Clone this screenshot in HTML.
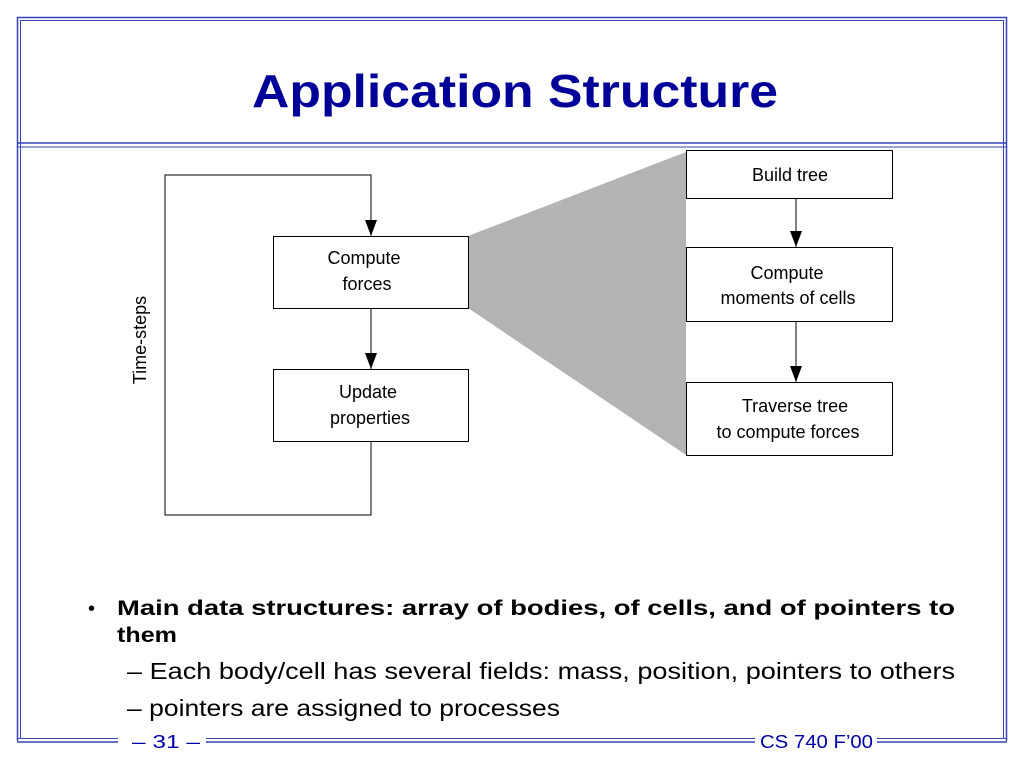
<!DOCTYPE html>
<html><head><meta charset="utf-8"><style>
html,body{margin:0;padding:0;background:#fff;}
</style></head><body>
<svg width="1024" height="768" xmlns="http://www.w3.org/2000/svg">
<defs><marker id="a" markerWidth="16" markerHeight="12" refX="16" refY="6" orient="auto" markerUnits="userSpaceOnUse"><path d="M0,0 L16,6 L0,12 Z" fill="#000"/></marker></defs>
<g stroke="#3344bb" fill="none">
<polyline points="17.5,741 17.5,17.5 1006.5,17.5 1006.5,741" stroke-width="1.5"/>
<polyline points="20.5,738 20.5,20.5 1003.5,20.5 1003.5,738" stroke-width="1"/>
<line x1="18" y1="143" x2="1006" y2="143" stroke-width="1.5"/>
<line x1="18" y1="147" x2="1006" y2="147" stroke-width="1"/>
<line x1="17" y1="738.5" x2="118" y2="738.5"/><line x1="17" y1="742" x2="118" y2="742" stroke-width="1.5"/>
<line x1="206" y1="738.5" x2="755" y2="738.5"/><line x1="206" y1="742" x2="755" y2="742" stroke-width="1.5"/>
<line x1="877" y1="738.5" x2="1007" y2="738.5"/><line x1="877" y1="742" x2="1007" y2="742" stroke-width="1.5"/>
</g>
<text x="252" y="107" textLength="526" lengthAdjust="spacingAndGlyphs" font-family="Liberation Sans, sans-serif" font-size="46" font-weight="bold" fill="#000099">Application Structure</text>
<polygon points="468,236 686,152 686,455 468,308" fill="#b3b3b3"/>
<g stroke="#000" stroke-width="1" fill="none">
<polyline points="371,441 371,515 165,515 165,175 371,175 371,236" marker-end="url(#a)"/>
<line x1="371" y1="308" x2="371" y2="369" marker-end="url(#a)"/>
<line x1="796" y1="198" x2="796" y2="247" marker-end="url(#a)"/>
<line x1="796" y1="321" x2="796" y2="382" marker-end="url(#a)"/>
</g>
<g stroke="#000" fill="#fff">
<rect x="273.5" y="236.5" width="195" height="72"/>
<rect x="273.5" y="369.5" width="195" height="72"/>
<rect x="686.5" y="150.5" width="206" height="48"/>
<rect x="686.5" y="247.5" width="206" height="74"/>
<rect x="686.5" y="382.5" width="206" height="73"/>
</g>
<g font-family="Liberation Sans, sans-serif" font-size="18" fill="#000" text-anchor="middle">
<text x="364" y="264">Compute</text><text x="367" y="290">forces</text>
<text x="368" y="398">Update</text><text x="370" y="424">properties</text>
<text x="790" y="181">Build tree</text>
<text x="787" y="279">Compute</text><text x="788" y="304">moments of cells</text>
<text x="795" y="412">Traverse tree</text><text x="788" y="438">to compute forces</text>
<text transform="translate(146,340) rotate(-90)">Time-steps</text>
</g>
<g font-family="Liberation Sans, sans-serif" fill="#000">
<text x="88" y="615" font-size="20">•</text>
<text x="117" y="615" font-size="21" font-weight="bold" textLength="838" lengthAdjust="spacingAndGlyphs">Main data structures: array of bodies, of cells, and of pointers to</text>
<text x="117" y="642" font-size="21" font-weight="bold" textLength="60" lengthAdjust="spacingAndGlyphs">them</text>
<text x="127" y="679" font-size="23" textLength="828" lengthAdjust="spacingAndGlyphs">– Each body/cell has several fields: mass, position, pointers to others</text>
<text x="127" y="716" font-size="23" textLength="433" lengthAdjust="spacingAndGlyphs">– pointers are assigned to processes</text>
</g>
<g font-family="Liberation Sans, sans-serif" font-size="18" fill="#0000aa">
<text x="132" y="748" textLength="68" lengthAdjust="spacingAndGlyphs">– 31 –</text>
<text x="760" y="748" textLength="113" lengthAdjust="spacingAndGlyphs">CS 740 F’00</text>
</g>
</svg>
</body></html>
